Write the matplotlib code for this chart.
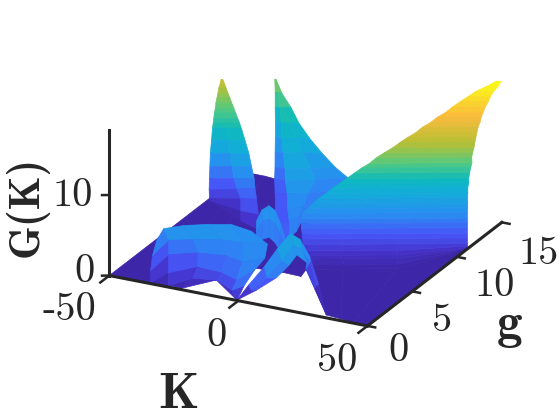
import matplotlib
matplotlib.use('Agg')
import matplotlib.pyplot as plt
from matplotlib.colors import LinearSegmentedColormap, Normalize
from mpl_toolkits.mplot3d.art3d import Poly3DCollection
import numpy as np

# tick values
K_ticks = [-50, 0, 50]
g_ticks = [0, 5, 10, 15]
z_ticks = [0, 10]

# floor
floor_K = [[-50.0,-34.3,-28.5,2.5,9.6,8.4],[-50.0,-45.5,-42.0,-37.5,-21.7,-6.8]]
floor_g = [[0.0,0.0,3.86,4.28,4.22,5.17],[15.0,15.0,15.0,14.92,13.29,9.96]]
floor_z = [[0.0,0.0,0.0,0.0,0.0,0.0],[0.0,0.0,0.0,0.0,0.0,0.0]]

# left peak
left_K = [[-49.2,-48.9,-48.6],[-49.0,-48.2,-47.6],[-48.9,-47.6,-46.7],[-48.9,-47.2,-45.8],[-48.9,-46.8,-44.9],[-48.6,-46.2,-43.8],[-48.2,-46.2,-43.1],[-48.2,-45.2,-41.7],
          [-47.5,-44.7,-40.2],[-47.4,-43.6,-39.3],[-47.3,-43.0,-37.3],[-46.8,-41.0,-34.2],[-45.9,-38.6,-30.0],[-44.8,-36.8,-26.2],[-44.7,-34.9,-23.4],[-44.2,-33.4,-20.8],[-44.5,-31.6,-18.0],[-47.0,-32.5,-13.1],[-48.3,-31.3,-16.2]]
left_g = [[12.24,12.26,12.28],[12.08,12.14,12.18],[11.92,12.01,12.08],[11.81,11.94,12.04],[11.70,11.86,12.00],[11.50,11.69,11.87],[11.32,11.69,11.92],[11.21,11.44,11.71],
          [10.95,11.37,11.50],[10.85,11.14,11.46],[10.75,11.07,11.08],[10.49,10.71,10.60],[10.10,10.23,9.82],[9.73,9.91,9.02],[9.65,9.55,8.51],[9.48,9.45,7.86],[9.59,9.37,7.22],[10.44,9.63,6.00],[10.83,9.29,7.26]]
left_z = [[13.9,13.9,13.9],[13.5,13.5,13.5],[13.2,13.2,13.2],[12.6,12.6,12.6],[12.1,12.1,12.1],[11.7,11.7,11.7],[11.2,11.0,11.0],[10.7,10.7,10.7],
          [10.3,10.1,10.3],[9.8,9.8,9.8],[9.3,9.3,9.6],[8.0,8.2,8.7],[6.8,7.1,8.0],[5.5,5.9,7.3],[4.1,4.8,6.4],[3.0,3.7,5.9],[1.8,2.7,5.3],[0.5,0.9,4.8],[0.0,0.0,1.4]]

# middle peak
mid_K = [[-38.5,-38.3,-38.2,-37.6],[-37.7,-35.7,-35.0,-34.0],[-37.4,-32.5,-31.0,-29.1],[-38.2,-28.2,-26.9,-23.5],[-38.5,-23.1,-22.2,-15.9],[-36.5,-18.3,-17.5,-8.8],
         [-33.9,-12.8,-10.3,-2.4],[-33.0,-9.5,-5.1,3.6],[-28.3,-6.0,-4.4,1.7],[-20.9,-0.9,-0.5,1.2],[-11.2,3.2,2.3,2.6],[0.8,7.7,7.2,4.8]]
mid_g = [[15.16,15.17,15.19,15.08],[14.98,14.71,14.76,14.69],[14.89,13.99,14.11,14.25],[15.14,12.94,13.46,13.57],[15.22,11.52,12.86,12.55],[14.62,10.29,12.25,11.92],
         [13.86,8.9,10.99,11.59],[13.56,8.0,10.02,11.19],[12.26,7.18,9.0,9.91],[10.17,5.76,7.36,8.23],[7.83,4.77,6.08,6.55],[4.82,3.52,4.38,5.68]]
mid_z = [[12.1,12.1,12.1,12.1],[10.7,11.0,11.0,11.0],[8.9,10.0,10.0,10.0],[6.8,9.3,8.9,8.9],[4.8,8.9,7.8,8.4],[3.6,8.4,6.8,7.5],
         [2.5,8.0,6.4,6.4],[1.4,7.5,6.1,5.9],[1.1,6.8,5.3,5.3],[1.4,6.4,5.3,5.3],[2.1,5.9,5.3,5.3],[3.6,5.3,5.3,5.3]]

# big sheet on the right
right_levels = [17.8,17.5,17.3,16.9,16.6,16.2,15.8,15.5,15.1,14.7,14.2,13.8,13.4,12.8,12.3,11.7,11.0,10.5,10.0,9.3,8.7,8.3,7.8,7.4,6.9,6.5,6.1,5.5,5.0,4.5,3.9,3.4,2.8,1.8,1.3,0.9,0.4,0.0,0.0]
right_K = [[49.1,49.4,50.0,50.7],[47.2,48.1,49.3,50.9],[45.3,46.8,48.3,50.8],[43.7,45.8,48.3,50.7],[42.4,44.9,47.9,51.0],[40.8,43.9,47.2,50.9],[39.6,42.9,46.6,51.1],[38.0,41.9,46.2,51.4],
           [36.7,41.0,45.8,51.9],[34.8,39.7,45.5,51.9],[33.3,38.4,45.4,52.1],[31.4,37.5,45.1,52.4],[29.8,36.5,45.1,52.7],[27.7,35.0,44.1,52.7],[25.5,33.4,43.5,52.6],[23.1,31.6,42.6,52.3],
           [21.0,29.8,42.0,52.4],[18.8,28.9,41.7,52.3],[17.0,27.9,41.3,52.3],[14.5,26.7,40.4,52.0],[12.4,25.8,39.5,52.0],[10.8,24.9,39.2,52.3],[9.3,23.9,39.1,52.9],[7.7,23.0,38.8,53.4],
           [6.5,22.0,38.8,54.0],[5.5,21.3,38.4,54.6],[4.5,21.0,38.4,55.1],[4.5,20.4,37.7,55.4],[4.8,19.7,37.4,55.7],[5.1,19.4,36.8,56.0],[5.7,19.1,36.5,56.3],[6.0,18.8,35.8,56.6],
           [6.6,18.8,35.5,56.9],[6.3,17.2,34.9,54.7],[6.4,17.7,35.1,53.9],[6.9,18.5,35.3,52.9],[7.8,19.1,35.8,51.4],[8.4,19.6,36.4,50.0],[32.9,39.0,44.6,50.0]]
right_g = [[14.58,14.61,14.65,14.70],[14.01,14.08,14.18,14.29],[13.44,13.56,13.67,13.86],[13.00,13.16,13.35,13.53],[12.59,12.77,13.00,13.23],[12.15,12.38,12.63,12.91],[11.73,11.98,12.26,12.61],[11.29,11.59,11.91,12.31],
           [10.87,11.20,11.57,12.03],[10.52,10.89,11.32,11.81],[10.18,10.58,11.11,11.62],[9.83,10.29,10.87,11.42],[9.50,10.00,10.65,11.23],[9.22,9.78,10.47,11.12],[8.95,9.55,10.32,11.01],[8.77,9.41,10.25,10.98],
           [8.60,9.27,10.20,10.98],[8.33,9.09,10.06,10.87],[8.08,8.92,9.93,10.76],[7.90,8.82,9.86,10.74],[7.73,8.75,9.79,10.74],[7.40,8.46,9.55,10.54],[7.07,8.18,9.33,10.37],[6.74,7.89,9.09,10.20],
           [6.43,7.61,8.88,10.03],[6.14,7.34,8.64,9.86],[5.85,7.10,8.42,9.69],[5.75,6.95,8.26,9.60],[5.66,6.79,8.13,9.52],[5.57,6.66,7.97,9.43],[5.51,6.53,7.84,9.34],[5.42,6.39,7.69,9.26],
           [5.36,6.28,7.55,9.17],[5.57,6.40,7.74,9.81],[5.51,6.37,7.68,10.05],[5.48,6.36,7.63,10.37],[5.34,6.19,7.46,10.78],[5.17,6.02,7.29,11.2],[0.34,0.21,0.03,0.0]]
right_z = [[v] * 4 for v in right_levels]

# small bump in the centre
bump_K = [[-7.3,-8.4,-6.7,-3.2,2.9,6.2],[-5.0,-6.0,-4.1,-0.3,3.5,7.8],[-1.0,-1.1,0.2,3.3,7.7,8.9]]
bump_g = [[4.13,5.04,5.34,5.08,3.95,3.41],[3.45,4.44,4.67,4.21,3.65,2.92],[2.25,2.98,3.38,3.02,2.38,2.59]]
bump_z = [[5.9,6.4,6.8,6.6,6.1,5.3],[5.3,5.7,5.9,5.9,5.3,5.0],[5.0,5.0,5.0,5.0,4.8,4.5]]

# front dome
dome_K = [[-32.3,-30.0,-25.1,-17.9,-12.0,-4.8],[-32.1,-28.7,-19.4,-11.1,-3.5,6.0],[-32.4,-28.4,-15.5,-5.2,2.9,11.1],
          [-34.3,-26.1,-13.7,-3.8,5.7,12.8],[-34.3,-26.1,-17.3,-7.7,2.5,12.9],[-34.3,-27.8,-22.6,-15.1,-0.2,0.6]]
dome_g = [[0.19,0.31,1.13,1.82,2.69,2.83],[-0.33,0.47,0.54,1.16,1.51,1.51],[-0.46,0.38,-0.04,0.08,-0.41,-0.25],
          [0.0,-0.29,-0.57,-0.70,-1.81,-1.90],[0.0,-0.31,-0.08,-0.08,-1.43,-3.07],[0.0,0.20,0.14,1.90,-0.28,-0.30]]
dome_z = [[5.3,6.8,6.8,6.8,6.4,5.9],[3.9,5.3,5.9,5.9,5.7,6.1],[2.1,3.6,5.0,5.2,5.3,6.2],
          [0.0,2.1,3.9,3.9,4.5,6.2],[0.0,0.5,1.8,2.1,2.7,5.3],[0.0,0.0,0.0,0.0,0.5,0.4]]

# arch in front of the big sheet
arch_K = [[0.6,8.5,11.6,13.3,14.9,18.6,21.6,25.3,32.9],[0.6,10.2,15.7,17.9,18.0,20.9,21.2,24.4,32.9],[0.6,10.1,17.1,19.9,19.7,22.0,19.9,22.7,32.9]]
arch_g = [[-0.30,-1.29,-0.49,0.47,1.49,1.51,1.76,1.68,0.34],[-0.30,-1.47,-1.39,-0.33,1.00,1.05,1.89,1.74,0.34],[-0.30,-0.85,-0.65,-0.14,0.85,1.31,1.81,2.01,0.34]]
arch_z = [[0.4,3.6,5.3,6.8,8.0,7.5,5.3,2.1,0.0],[0.4,3.2,5.0,6.2,7.1,6.8,4.5,1.8,0.0],[0.4,2.7,4.5,5.7,6.2,5.0,3.6,1.1,0.0]]

# parula like colormap
parula = LinearSegmentedColormap.from_list('parula', [
    (0.0, (0.242, 0.150, 0.660)), (0.10, (0.27, 0.20, 0.80)), (0.22, (0.275, 0.34, 0.97)), (0.33, (0.16, 0.55, 0.95)),
    (0.44, (0.07, 0.68, 0.85)), (0.52, (0.05, 0.73, 0.73)), (0.62, (0.33, 0.79, 0.5)),
    (0.75, (0.72, 0.75, 0.2)), (0.875, (0.98, 0.73, 0.24)), (1.0, (0.98, 0.98, 0.08))])
norm = Normalize(0, 17.8)

fig = plt.figure(figsize=(5.6, 4.2), dpi=100)
ax = fig.add_axes([83.7 / 560, 22.2 / 420, 432 / 560, 432 / 420], projection='3d', proj_type='ortho')
ax.computed_zorder = False
ax.view_init(elev=22.8, azim=-63.3)
ax.set_box_aspect((287, 297, 157.3))
ax.set_xlim(-50, 50)
ax.set_ylim(0, 15)
ax.set_zlim(0, 18.125)
ax.set_axis_off()


def draw_sheet(K, g, z, order):
    K, g, z = np.array(K), np.array(g), np.array(z)
    polys, cols = [], []
    for i in range(K.shape[0] - 1):
        for j in range(K.shape[1] - 1):
            idx = [(i, j), (i, j + 1), (i + 1, j + 1), (i + 1, j)]
            polys.append([(K[p], g[p], z[p]) for p in idx])
            cols.append(parula(norm(np.mean([z[p] for p in idx]))))
    col = Poly3DCollection(polys, facecolors=cols, edgecolors=cols, linewidths=0.5, zorder=order)
    ax.add_collection3d(col)


draw_sheet(floor_K, floor_g, floor_z, 1)
draw_sheet(left_K, left_g, left_z, 2)
draw_sheet(mid_K, mid_g, mid_z, 3)
draw_sheet(right_K, right_g, right_z, 4)
draw_sheet(bump_K, bump_g, bump_z, 5)
draw_sheet(dome_K, dome_g, dome_z, 6)
draw_sheet(arch_K, arch_g, arch_z, 7)

# axis lines and ticks
axc = '#262626'
ax.plot([-50, 50], [0, 0], [0, 0], color=axc, lw=2.2, zorder=10)
ax.plot([50, 50], [0, 15], [0, 0], color=axc, lw=2.2, zorder=10)
ax.plot([-50, -50], [0, 0], [0, 18.125], color=axc, lw=2.2, zorder=10)
for k in K_ticks:
    ax.plot([k, k], [0, -1.0], [0, 0], color=axc, lw=1.8, zorder=10)
for v in g_ticks:
    ax.plot([50, 53], [v, v], [0, 0], color=axc, lw=1.8, zorder=10)
for v in z_ticks:
    ax.plot([-50, -52.2], [0, -0.17], [v, v], color=axc, lw=1.8, zorder=10)

# tick labels and axis names
for txt, x, y in [('-50', 69, 310), ('0', 217, 336), ('50', 337, 361),
                  ('0', 398, 351), ('5', 442, 321), ('10', 495, 286), ('15', 539, 254),
                  ('0', 84, 272), ('10', 73, 196)]:
    fig.text(x / 560, 1 - y / 420, txt, family='cmr10', fontsize=29, color='#262626', ha='center', va='center')
fig.text(178 / 560, 1 - 395 / 420, 'K', family='cmb10', fontsize=37, color='#262626', ha='center', va='center')
fig.text(510 / 560, 1 - 326 / 420, 'g', family='cmb10', fontsize=37, color='#262626', ha='center', va='center')
fig.text(27 / 560, 1 - 206 / 420, 'G(K)', family='cmb10', fontsize=31, color='#262626', rotation=90, ha='center', va='center')

fig.savefig('out.png', dpi=100)
